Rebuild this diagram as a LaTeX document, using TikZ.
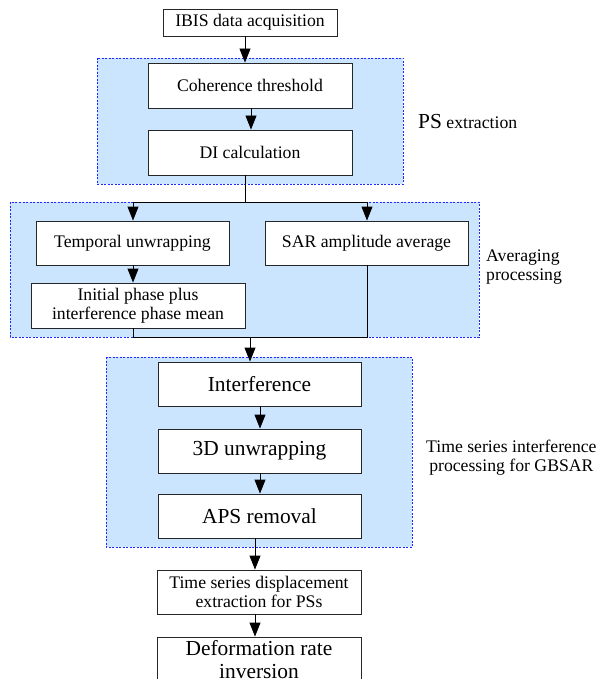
\documentclass[tikz,border=0pt]{standalone}
\usepackage{fontspec}
\setmainfont{Liberation Serif}
\usetikzlibrary{arrows.meta,calc}
\definecolor{regionfill}{RGB}{204,229,255}
\definecolor{regionline}{RGB}{30,40,255}
\newcommand{\fsN}{\fontsize{17.7}{18.8}\selectfont}
\newcommand{\fsL}{\fontsize{21.4}{22.5}\selectfont}
\begin{document}
\begin{tikzpicture}[x=1pt,y=-1pt,
  stepbox/.style={draw=black!85,line width=0.9pt,fill=white,minimum width=#1,inner sep=0pt,align=center,font=\fsN},
  stepbox/.default=204pt,
  bigbox/.style={stepbox=#1,font=\fsL},
  bigbox/.default=203pt,
  region/.style={draw=regionline,fill=regionfill,line width=0.7pt,dash pattern=on 2pt off 1.5pt},
  arr/.style={line width=0.9pt,-{Triangle[length=14pt,width=11pt]}},
  ln/.style={line width=0.9pt},
  lab/.style={font=\fsN,inner sep=0pt,anchor=west}]
\useasboundingbox (0,0) rectangle (602,679);
\fill[white] (0,0) rectangle (602,679);
% regions
\draw[region] (97,58) rectangle (403,184);
\draw[region] (10,202) rectangle (479,337);
\draw[region] (106,357) rectangle (412,547);
% nodes
\node[stepbox=174pt,minimum height=27pt] (ibis) at (250,22.5) {IBIS data acquisition};
\node[stepbox,minimum height=45pt] (coh) at (250,85.5) {Coherence threshold};
\node[stepbox,minimum height=45pt] (di) at (250,152.5) {DI calculation};
\node[stepbox=193pt,minimum height=44pt] (temp) at (132.5,243) {Temporal unwrapping};
\node[stepbox=203pt,minimum height=44pt] (sar) at (366.5,243) {SAR amplitude average};
\node[stepbox=214pt,minimum height=45pt] (init) at (138,305.5) {Initial phase plus\\interference phase mean};
\node[bigbox,minimum height=44pt] (intf) at (259.5,384) {Interference};
\node[bigbox,minimum height=44pt] (unw) at (259.5,451) {3D unwrapping};
\node[bigbox,minimum height=44pt] (aps) at (259.5,516) {APS removal};
\node[stepbox,minimum height=44pt] (tsd) at (259,592) {Time series displacement\\extraction for PSs};
\node[bigbox=204pt,minimum height=45pt] (def) at (259,659.5) {Deformation rate\\inversion};
% labels
\node[lab] (lps) at (418,122) {{\fsL PS} extraction};
\node[lab,align=left] (lavg) at (486,267) {Averaging\\processing};
\node[lab,align=center] (lts) at (426,458) {Time series interference\\processing for GBSAR};
% connectors
\coordinate (split) at (245,202);
\coordinate (splitL) at (133,202);
\coordinate (splitR) at (367,202);
\coordinate (joinL) at (133,337);
\coordinate (joinR) at (367,337);
\coordinate (joinM) at (250,337);
\draw[arr] ([xshift=-5pt]ibis.south) -- ([xshift=-5pt]ibis.south |- coh.north);
\draw[arr] ([xshift=1pt]coh.south) -- ([xshift=1pt]di.north);
\draw[ln] ([xshift=-5pt]di.south) -- (split);
\draw[ln] (splitL) -- (splitR);
\draw[arr] (splitL) -- (splitL |- temp.north);
\draw[arr] (splitR) -- (splitR |- sar.north);
\draw[arr] (splitL |- temp.south) -- (splitL |- init.north);
\draw[ln] (joinL |- init.south) -- (joinL) -- (joinR) -- (joinR |- sar.south);
\draw[arr] (joinM) -- (joinM |- intf.north);
\draw[arr] ([xshift=0.5pt]intf.south) -- ([xshift=0.5pt]unw.north);
\draw[arr] ([xshift=0.5pt]unw.south) -- ([xshift=0.5pt]aps.north);
\draw[arr] ([xshift=-4.5pt]aps.south) -- ([xshift=-4.5pt]aps.south |- tsd.north);
\draw[arr] ([xshift=-4pt]tsd.south) -- ([xshift=-4pt]def.north);
\end{tikzpicture}
\end{document}
